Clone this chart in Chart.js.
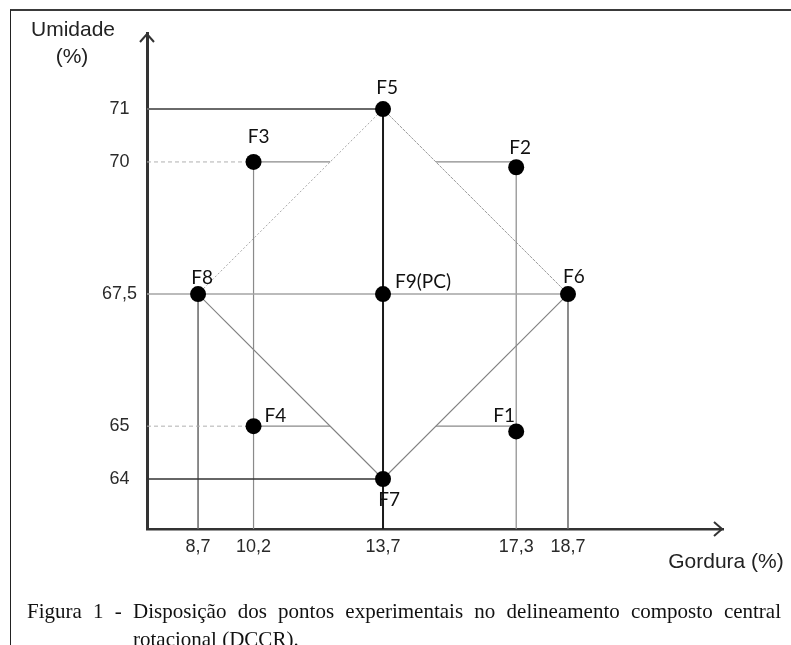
<!DOCTYPE html>
<html lang="pt">
<head>
<meta charset="UTF-8">
<title>Figura 1 - DCCR</title>
<script src="https://cdn.jsdelivr.net/npm/chart.js"></script>
<style>
  html, body { margin: 0; padding: 0; background: #fff; }
  body { width: 791px; height: 645px; position: relative; overflow: hidden; }
  #moldura { position: absolute; left: 10px; top: 9px; width: 781px; height: 640px;
             border-top: 2px solid #3a3a3a; border-left: 1.5px solid #222; }
  canvas { position: absolute; left: 0; top: 0; }
  .legenda { position: absolute; left: 27px; top: 597px; width: 754px; color: #111;
             font: 21px "Liberation Serif", "Times New Roman", serif; line-height: 28px; }
  .l1 { text-align: justify; text-align-last: justify; }
  .l2 { padding-left: 106px; }
</style>
</head>
<body>
<div id="moldura"></div>
<canvas id="dccr" width="791" height="645"></canvas>
<div class="legenda">
  <div class="l1">Figura 1 - Disposição dos pontos experimentais no delineamento composto central</div>
  <div class="l2">rotacional (DCCR).</div>
</div>

<script>
// pontos do planejamento F1..F9
const rotulos = ['F1', 'F2', 'F3', 'F4', 'F5', 'F6', 'F7', 'F8', 'F9(PC)'];
const gordura = [17.3, 17.3, 10.2, 10.2, 13.7, 18.7, 13.7, 8.7, 13.7];
const umidade = [64.9, 69.9, 70, 65, 71, 67.5, 64, 67.5, 67.5];
const ticksGordura = [8.7, 10.2, 13.7, 17.3, 18.7];
const ticksUmidade = [64, 65, 67.5, 70, 71];

// limites dos eixos (origem e ponta das setas)
const xMin = 7.32, xMax = 22.89;
const yMin = 63.054, yMax = 72.44;

// deslocamento dos rótulos em px: [dx, dy, alinhamento]
const posRotulo = [[-12, -16, 'center'], [4, -19, 'center'], [5, -25, 'center'], [11, -10, 'left'],
                   [4, -21, 'center'], [6, -17, 'center'], [6, 21, 'center'], [4, -16, 'center'], [12, -12, 'left']];

const P = gordura.map((g, i) => ({ x: g, y: umidade[i] }));
const [F1, F2, F3, F4, F5, F6, F7, F8, F9] = P;

// x de uma aresta do losango numa dada umidade
function xNa(a, b, y) { return a.x + (b.x - a.x) * (y - a.y) / (b.y - a.y); }

function seg(x1, y1, x2, y2, cor, larg, traco) {
  return {
    type: 'line', data: [{ x: x1, y: y1 }, { x: x2, y: y2 }],
    borderColor: cor, borderWidth: larg, borderDash: traco || [],
    pointRadius: 0, fill: false, showLine: true
  };
}

const datasets = [
  { type: 'scatter', data: P, pointRadius: 8, pointHoverRadius: 8,
    backgroundColor: '#000', borderWidth: 0, showLine: false },
  // linhas de referência horizontais
  seg(xMin, 71, F5.x, 71, '#6a6a6a', 2),
  seg(xMin, 70, F3.x, 70, '#b0b0b0', 1, [4, 3]),
  seg(F3.x, 70, xNa(F8, F5, 70), 70, '#8a8a8a', 1.2),
  seg(xNa(F5, F6, 70), 70, F2.x, 70, '#8a8a8a', 1.2),
  seg(xMin, 67.5, F6.x, 67.5, '#a5a5a5', 1.5),
  seg(xMin, 65, F4.x, 65, '#b0b0b0', 1, [4, 3]),
  seg(F4.x, 65, xNa(F8, F7, 65), 65, '#8a8a8a', 1.2),
  seg(xNa(F7, F6, 65), 65, F1.x, 65, '#8a8a8a', 1.2),
  seg(xMin, 64, F7.x, 64, '#333', 1.5),
  // linhas de referência verticais
  seg(F8.x, F8.y, F8.x, yMin, '#666', 1.5),
  seg(F3.x, F3.y, F3.x, yMin, '#8a8a8a', 1.2),
  seg(F5.x, F5.y, F5.x, yMin, '#1a1a1a', 2),
  seg(F2.x, F2.y, F2.x, yMin, '#8a8a8a', 1.2),
  seg(F6.x, F6.y, F6.x, yMin, '#666', 1.5),
  // losango dos pontos axiais
  seg(F8.x, F8.y, F5.x, F5.y, '#a8a8a8', 1, [2, 2]),
  seg(F5.x, F5.y, F6.x, F6.y, '#999', 1, [3, 1]),
  seg(F8.x, F8.y, F7.x, F7.y, '#808080', 1.1),
  seg(F7.x, F7.y, F6.x, F6.y, '#808080', 1.1)
];

const virgula = v => String(v).replace('.', ',');
const fonteEixo = { family: '"Liberation Sans", Arial, sans-serif', size: 18 };

const extras = {
  id: 'extras',
  afterDraw(chart) {
    const { ctx, chartArea: { left, right, top, bottom } } = chart;
    ctx.save();
    // setas dos eixos
    ctx.strokeStyle = '#333';
    ctx.lineWidth = 2;
    ctx.beginPath();
    ctx.moveTo(left - 7, top + 9); ctx.lineTo(left, top + 1); ctx.lineTo(left + 7, top + 9);
    ctx.moveTo(right - 9, bottom - 7); ctx.lineTo(right - 1, bottom); ctx.lineTo(right - 9, bottom + 7);
    ctx.stroke();
    // títulos
    ctx.fillStyle = '#222';
    ctx.font = '21px "Liberation Sans", Arial, sans-serif';
    ctx.textAlign = 'center';
    ctx.textBaseline = 'middle';
    ctx.fillText('Umidade', 73, 30);
    ctx.fillText('(%)', 72, 57);
    ctx.fillText('Gordura (%)', 726, 562);
    // rótulos dos pontos
    ctx.fillStyle = '#111';
    ctx.font = '19px Lato, "Noto Sans", sans-serif';
    const meta = chart.getDatasetMeta(0);
    meta.data.forEach((pt, i) => {
      const [dx, dy, al] = posRotulo[i];
      ctx.textAlign = al;
      ctx.fillText(rotulos[i], pt.x + dx, pt.y + dy);
    });
    ctx.restore();
  }
};

new Chart(document.getElementById('dccr'), {
  type: 'scatter',
  data: { datasets },
  options: {
    responsive: false,
    animation: false,
    events: [],
    layout: { padding: { left: 0, top: 33, right: 68, bottom: 0 } },
    plugins: { legend: { display: false }, tooltip: { enabled: false } },
    scales: {
      x: {
        type: 'linear', min: xMin, max: xMax,
        afterBuildTicks: s => { s.ticks = ticksGordura.map(v => ({ value: v })); },
        afterFit: s => { s.height = 116; },
        ticks: { callback: virgula, font: fonteEixo, color: '#2a2a2a', padding: 7,
                 maxRotation: 0, autoSkip: false },
        grid: { display: false, drawTicks: false },
        border: { display: true, color: '#333', width: 2.5 }
      },
      y: {
        type: 'linear', min: yMin, max: yMax,
        afterBuildTicks: s => { s.ticks = ticksUmidade.map(v => ({ value: v })); },
        afterFit: s => { s.width = 147; },
        ticks: { callback: virgula, font: fonteEixo, color: '#2a2a2a', padding: 10,
                 crossAlign: 'center', autoSkip: false },
        grid: { display: false, drawTicks: false },
        border: { display: true, color: '#333', width: 3 }
      }
    }
  },
  plugins: [extras]
});
</script>
</body>
</html>
